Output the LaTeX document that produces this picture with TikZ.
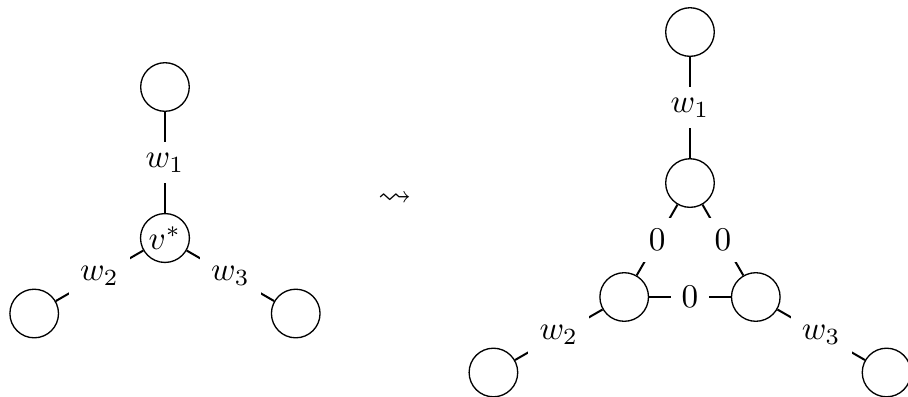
\documentclass[tikz,border=0pt]{standalone}
\usepackage{amsmath}
\usepackage{amssymb}
\usetikzlibrary{positioning}

\begin{document}
\begin{tikzpicture}[vtx/.style={circle, draw, minimum size=0.515cm, inner sep=1pt}, lbl/.style={fill=white}, wt/.style={semithick}]
        \useasboundingbox (-1.748,-1.674) rectangle (7.873,2.522);
        % before
        \node[vtx] (vs) at (0,0) {$v^*$};
        \node[vtx] (u1) at (90:1.6) {};
        \node[vtx] (u2) at (210:1.6) {};
        \node[vtx] (u3) at (330:1.6) {};
        \draw[wt] (vs) -- node[lbl] {$w_1$} (u1);
        \draw[wt] (vs) -- node[lbl] {$w_2$} (u2);
        \draw[wt] (vs) -- node[lbl] {$w_3$} (u3);
        \node (to) at (2.44,0.41) {$\leadsto$};
        % after
        \begin{scope}[shift={(5.563,-0.2225)}]
        \node[vtx] (x1) at (90:0.805) {};
        \node[vtx] (x2) at (210:0.805) {};
        \node[vtx] (x3) at (330:0.805) {};
        \node[vtx] (y1) at (90:2.405) {};
        \node[vtx] (y2) at (210:2.405) {};
        \node[vtx] (y3) at (330:2.405) {};
        \end{scope}
        \draw[wt] (x1) -- node[lbl] {$0$} (x2);
        \draw[wt] (x1) -- node[lbl] {$0$} (x3);
        \draw[wt] (x2) -- node[lbl] {$0$} (x3);
        \draw[wt] (x1) -- node[lbl] {$w_1$} (y1);
        \draw[wt] (x2) -- node[lbl] {$w_2$} (y2);
        \draw[wt] (x3) -- node[lbl] {$w_3$} (y3);
    \end{tikzpicture}
\end{document}
